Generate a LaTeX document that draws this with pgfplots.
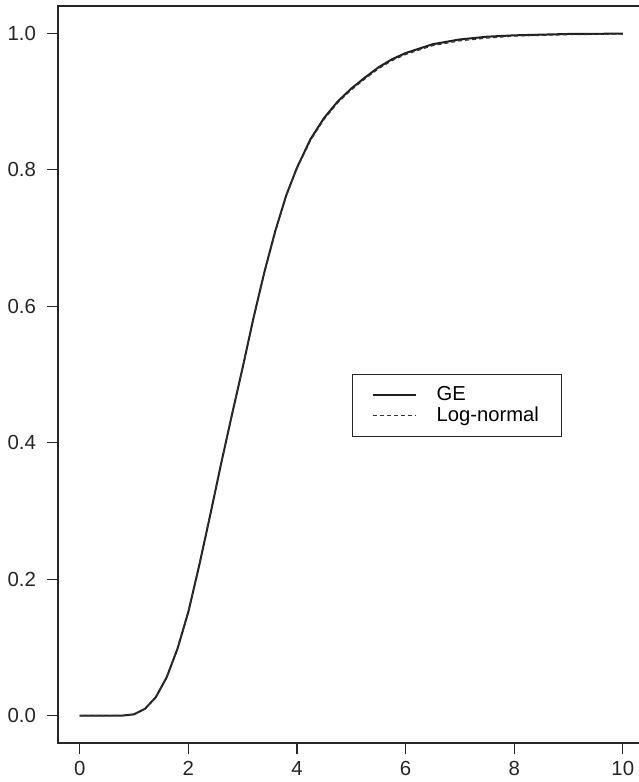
\documentclass[border=0pt]{standalone}
\usepackage{pgfplots}
\pgfplotsset{compat=1.18}
\usetikzlibrary{calc}
\usepackage{fontspec}
\setmainfont{Liberation Sans}

\pgfplotstableread{
x     y
0     0
0.5   0
0.8   0.0003
1.0   0.002
1.2   0.010
1.4   0.027
1.6   0.056
1.8   0.098
2.0   0.152
2.2   0.220
2.4   0.293
2.6   0.368
2.8   0.440
3.0   0.510
3.2   0.583
3.4   0.650
3.6   0.710
3.8   0.762
4.0   0.803
4.25  0.845
4.5   0.876
4.75  0.900
5.0   0.919
5.25  0.935
5.5   0.950
5.75  0.962
6.0   0.971
6.5   0.984
7.0   0.991
7.5   0.995
8.0   0.997
9.0   0.999
10    0.9995
}\gecdf

\pgfplotstableread{
x     y
0     0
0.5   0
0.8   0.0004
1.0   0.002
1.2   0.010
1.4   0.027
1.6   0.057
1.8   0.099
2.0   0.153
2.2   0.221
2.4   0.294
2.6   0.368
2.8   0.440
3.0   0.510
3.2   0.582
3.4   0.649
3.6   0.709
3.8   0.761
4.0   0.802
4.25  0.843
4.5   0.874
4.75  0.898
5.0   0.917
5.25  0.933
5.5   0.948
5.75  0.960
6.0   0.969
6.5   0.982
7.0   0.989
7.5   0.993
8.0   0.996
9.0   0.998
10    0.999
}\lncdf

\begin{document}
\begin{tikzpicture}
\begin{axis}[
    name=ax,
    scale only axis,
    width=293.26pt, height=368.5pt,
    xmin=-0.4, xmax=10.4,
    ymin=-0.04, ymax=1.04,
    axis line style={line width=0.75pt, black!85},
    xtick={0,2,...,10},
    ytick={0,0.2,...,1.0},
    xtick pos=left, ytick pos=left,
    tick align=outside,
    major tick length=5.5pt,
    tick style={line width=0.6pt, black!85},
    yticklabel style={xshift=-2pt, /pgf/number format/.cd, fixed, fixed zerofill, precision=1},
    /pgf/number format/assume math mode=true,
    ticklabel style={font=\fontsize{10.2}{12}\selectfont, text=black!85},
    legend style={at={(rel axis cs:0.5016,0.5007)}, anchor=north west,
        draw=black!85, line width=0.5pt,
        font=\fontsize{10.1}{11}\selectfont,
        inner xsep=9.5pt, inner ysep=4pt, row sep=-2.5pt,
        /tikz/every odd column/.append style={column sep=8pt}},
    legend cell align=left,
    legend image code/.code={\draw[#1] (0pt,0pt) -- (21.5pt,0pt);},
]
\addplot[black!88, line width=1pt] table[x=x,y=y] {\gecdf};
\addplot[black!80, line width=0.6pt, dash pattern=on 2pt off 1.5pt] table[x=x,y=y] {\lncdf};
\legend{GE,Log-normal}
\end{axis}
\pgfresetboundingbox
\path ($(ax.south west)+(-29pt,-19.5pt)$) rectangle ($(ax.north east)+(-3.26pt,3pt)$);
\end{tikzpicture}
\end{document}
